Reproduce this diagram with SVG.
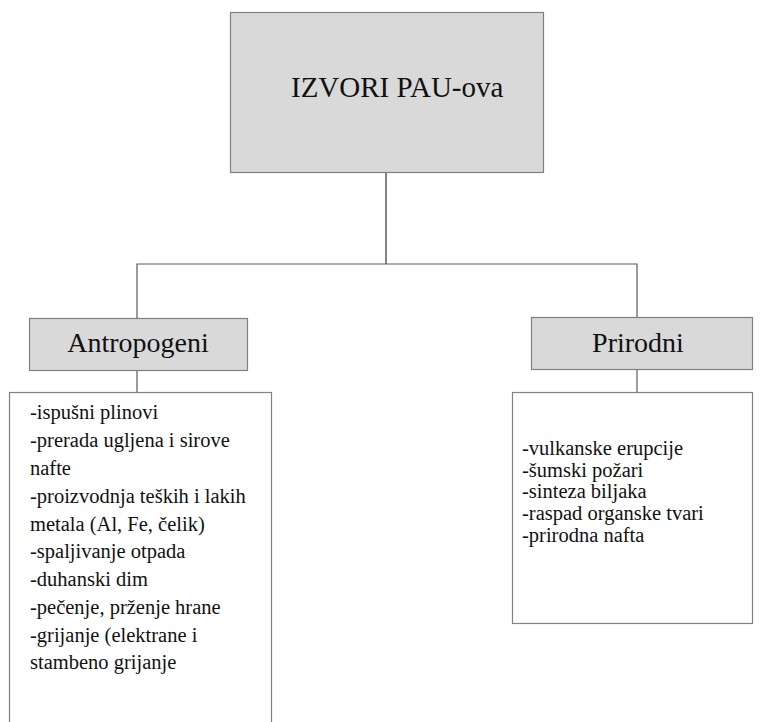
<svg xmlns="http://www.w3.org/2000/svg" width="761" height="722" viewBox="0 0 761 722">
<style>
.box{fill:#d9d9d9;stroke:#808080;stroke-width:1.2}
.list{fill:#ffffff;stroke:#808080;stroke-width:1.2}
.conn{stroke:#5a5a5a;stroke-width:1.2;fill:none}
.t{font-family:'Liberation Serif','Times New Roman',serif;fill:#111}
</style>
<rect width="761" height="722" fill="#ffffff"/>
<g id="connectors">
<line class="conn" x1="386" y1="173" x2="386" y2="264" style="stroke:#333"/>
<polyline class="conn" points="137,318 137,264 637,264 637,317"/>
<line class="conn" x1="137" y1="370" x2="137" y2="392"/>
<line class="conn" x1="637" y1="369" x2="637" y2="392"/>
</g>
<g id="root">
<rect class="box" x="230.5" y="12.5" width="313" height="160"/>
<text class="t" x="291" y="97" font-size="29">IZVORI PAU-ova</text>
</g>
<g id="antropogeni">
<rect class="box" x="29.5" y="318.5" width="218" height="52"/>
<text class="t" x="138" y="352" font-size="28" text-anchor="middle">Antropogeni</text>
</g>
<g id="prirodni">
<rect class="box" x="531.5" y="317.5" width="221" height="52"/>
<text class="t" x="638" y="352" font-size="28" text-anchor="middle">Prirodni</text>
</g>
<g id="antropogeni-list">
<rect class="list" x="9.5" y="392.5" width="262" height="340"/>
<text class="t" font-size="20.5">
<tspan x="30" y="419">-ispušni plinovi</tspan>
<tspan x="30" y="447">-prerada ugljena i sirove</tspan>
<tspan x="30" y="475">nafte</tspan>
<tspan x="30" y="503">-proizvodnja teških i lakih</tspan>
<tspan x="30" y="531">metala (Al, Fe, čelik)</tspan>
<tspan x="30" y="558">-spaljivanje otpada</tspan>
<tspan x="30" y="586">-duhanski dim</tspan>
<tspan x="30" y="614">-pečenje, prženje hrane</tspan>
<tspan x="30" y="642">-grijanje (elektrane i</tspan>
<tspan x="30" y="669">stambeno grijanje</tspan>
</text>
</g>
<g id="prirodni-list">
<rect class="list" x="512.5" y="392.5" width="240" height="231"/>
<text class="t" font-size="20.5">
<tspan x="522" y="455">-vulkanske erupcije</tspan>
<tspan x="522" y="477">-šumski požari</tspan>
<tspan x="522" y="498">-sinteza biljaka</tspan>
<tspan x="522" y="520">-raspad organske tvari</tspan>
<tspan x="522" y="542">-prirodna nafta</tspan>
</text>
</g>
</svg>
